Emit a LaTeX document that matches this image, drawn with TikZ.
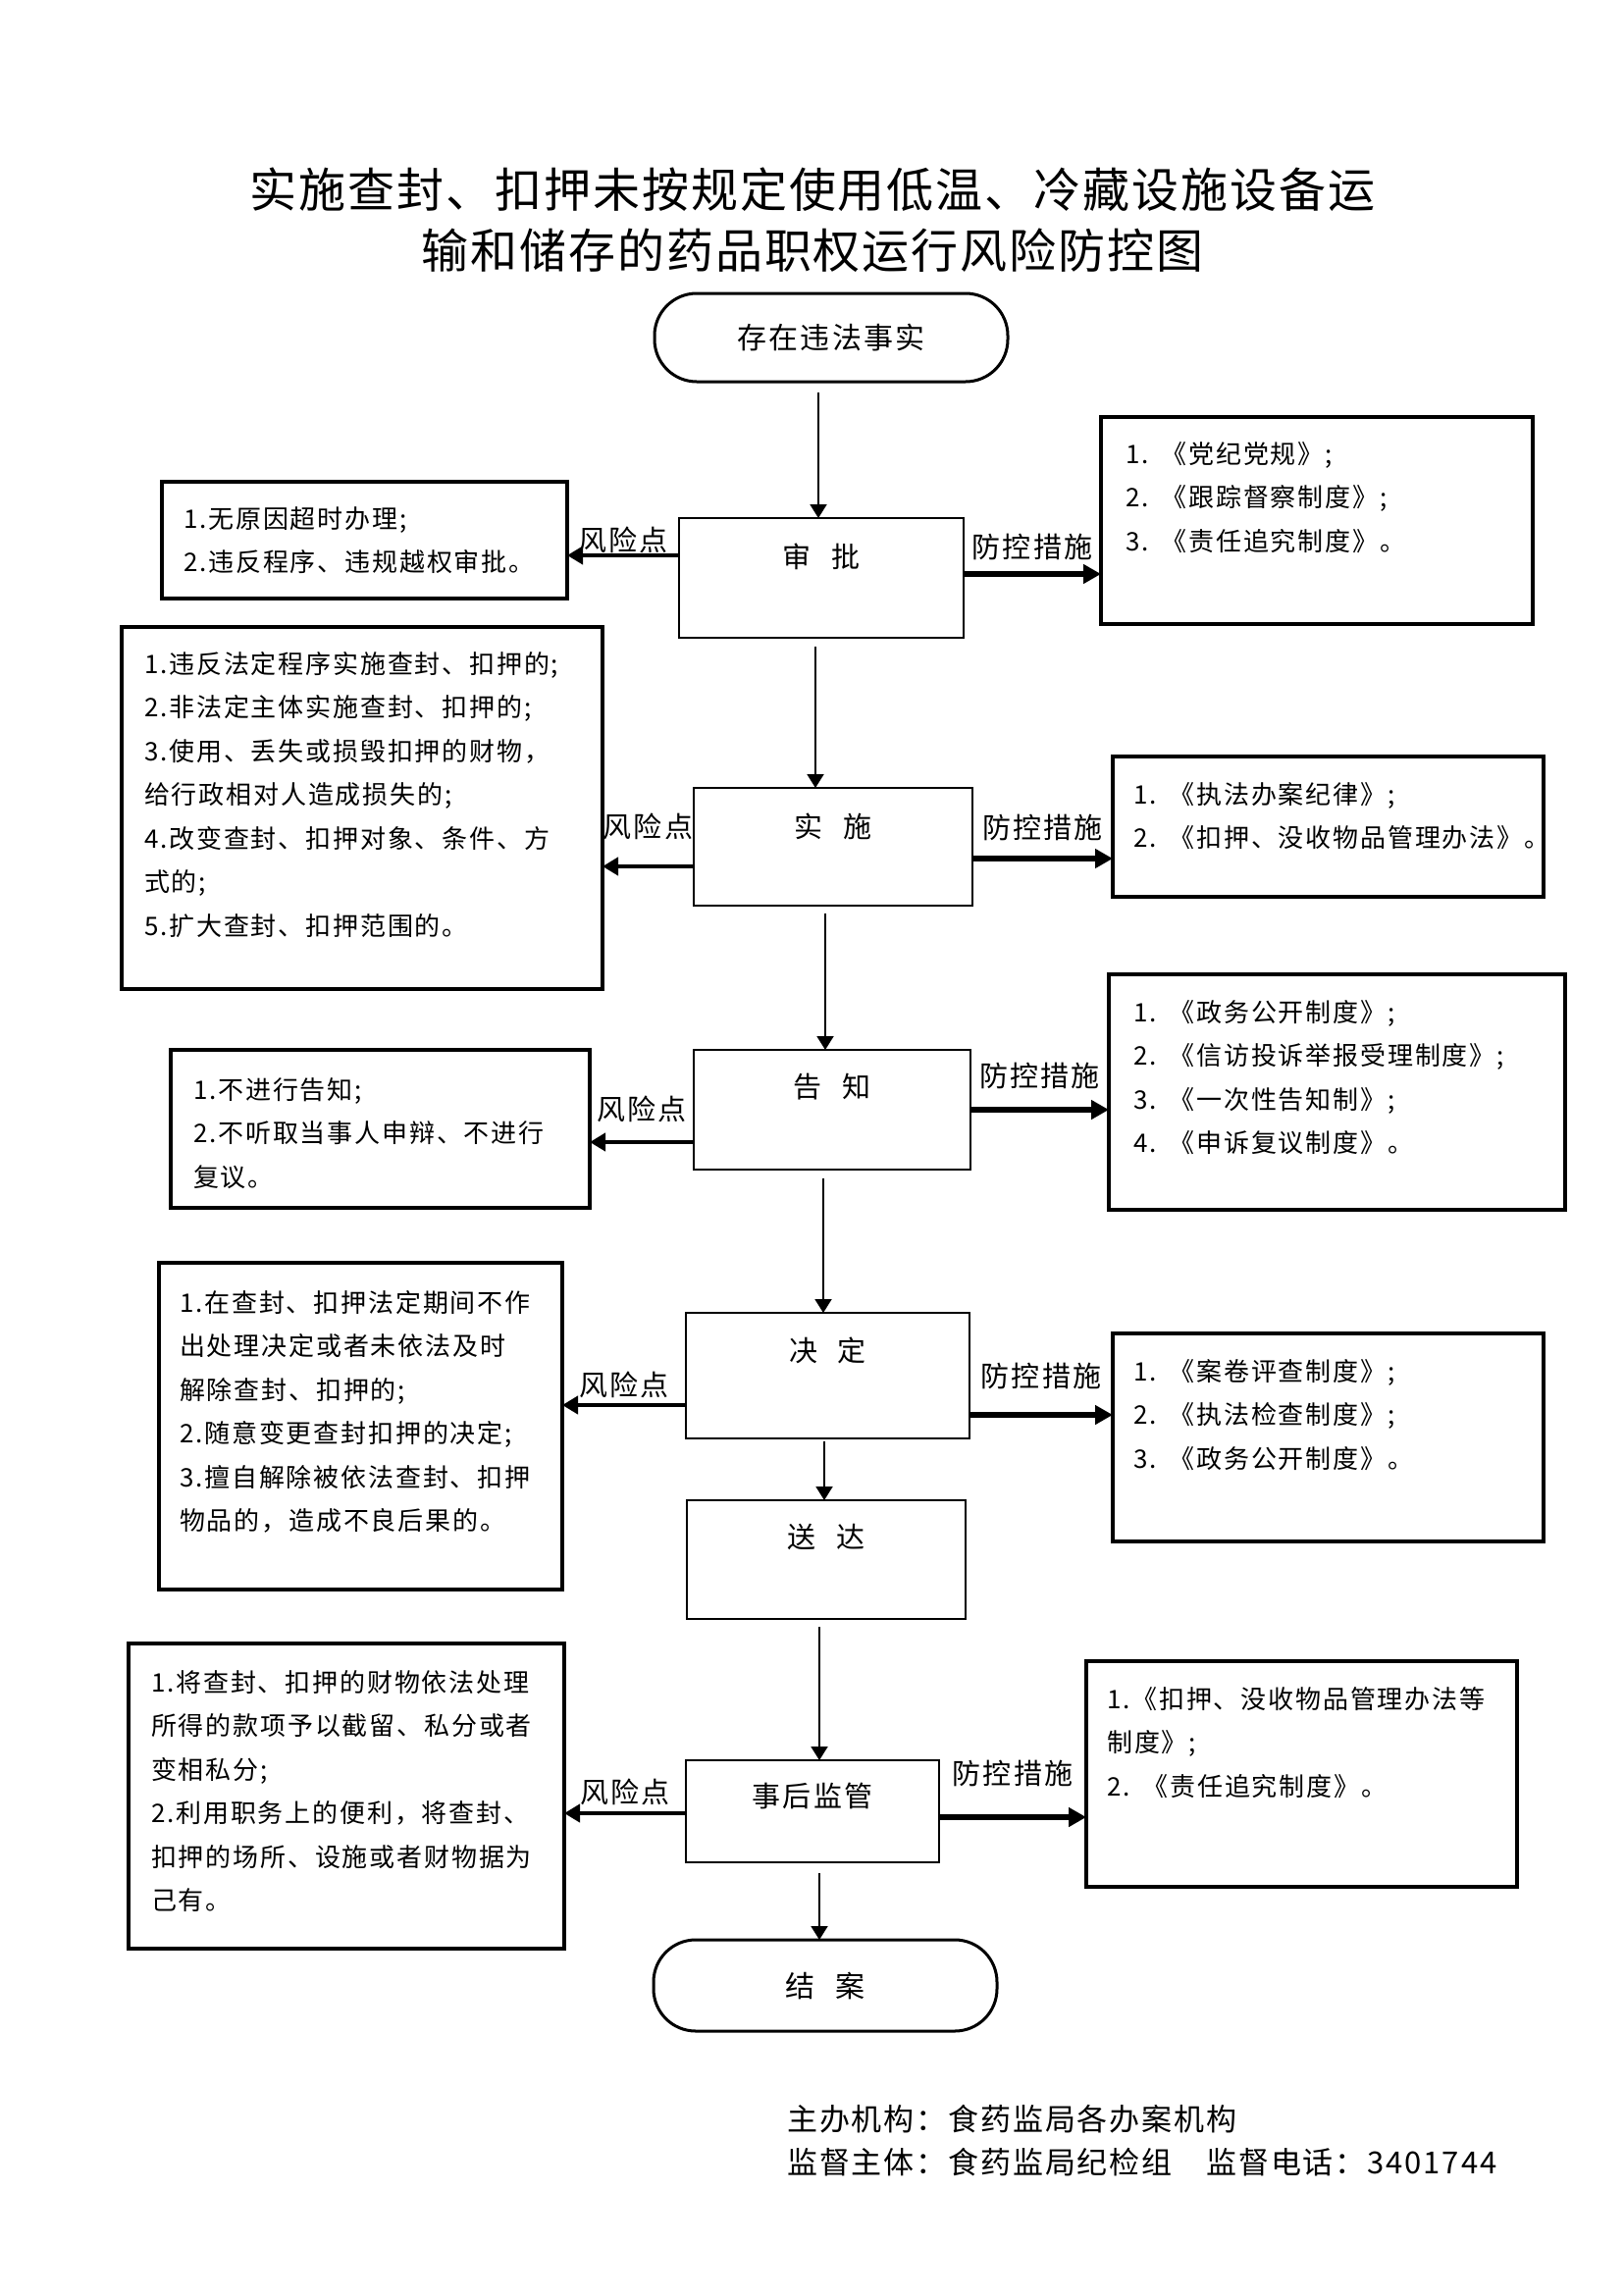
\documentclass[tikz,border=0pt]{standalone}
\usepackage{fontspec}
\setmainfont{Noto Sans CJK SC}
\newfontfamily\titlefont[LetterSpace=4]{Noto Sans CJK SC}
\newfontfamily\boxfont[LetterSpace=7]{Noto Sans CJK SC}
\newfontfamily\labelfont[LetterSpace=8]{Noto Sans CJK SC}
\newfontfamily\procfont[LetterSpace=8]{Noto Sans CJK SC}
\newfontfamily\footfont[LetterSpace=6]{Noto Sans CJK SC}
\usetikzlibrary{arrows.meta}
\begin{document}
\begin{tikzpicture}[x=1pt,y=-1pt,
  box/.style={draw, line width=3.5pt, inner sep=0pt, outer sep=0pt, anchor=north west},
  proc/.style={draw, line width=2.6pt, inner sep=0pt, outer sep=0pt, anchor=north west},
  term/.style={draw, line width=3pt, rounded corners=43pt, inner sep=0pt, outer sep=0pt, anchor=north west,
    font=\procfont\fontsize{30}{36}\selectfont},
  ptext/.style={inner sep=0pt, font=\procfont\fontsize{29}{36}\selectfont},
  lines/.style={anchor=base west, inner sep=0pt, text width=600pt, align=left,
    font=\boxfont\fontsize{26}{44.5}\selectfont},
  lbl/.style={inner sep=0pt, font=\labelfont\fontsize{29}{34}\selectfont},
  flow/.style={line width=2pt, -{Triangle[width=17pt,length=14pt]}},
  riskarrow/.style={line width=4.5pt, -{Triangle[width=18pt,length=16pt]}},
  ctrlarrow/.style={line width=5.5pt, -{Triangle[width=19pt,length=18pt]}},
  titletext/.style={inner sep=0pt, font=\titlefont\fontsize{48}{60}\selectfont},
  foot/.style={anchor=west, inner sep=0pt, font=\footfont\fontsize{31}{40}\selectfont}
]
\fill[white] (0,0) rectangle (1654,2339);
\useasboundingbox (0,0) rectangle (1654,2339);

% title
\node[titletext] (t1) at (828,193) {实施查封、扣押未按规定使用低温、冷藏设施设备运};
\node[titletext] (t2) at (828,255) {输和储存的药品职权运行风险防控图};

% terminals
\node[term, minimum width=360pt, minimum height=90pt] (start) at (667,299) {存在违法事实\hspace{30pt}};
\node[term, minimum width=350pt, minimum height=93pt] (end) at (666,1977) {结\hspace{0.7em}案};

% process boxes
\node[proc, minimum width=290pt, minimum height=122pt] (sp) at (692,528) {};
\node[proc, minimum width=284pt, minimum height=120pt] (ss) at (707,803) {};
\node[proc, minimum width=282pt, minimum height=122pt] (gz) at (707,1070) {};
\node[proc, minimum width=289pt, minimum height=128pt] (jd) at (699,1338) {};
\node[proc, minimum width=284pt, minimum height=121pt] (sd) at (700,1529) {};
\node[proc, minimum width=258pt, minimum height=104pt] (sh) at (699,1794) {};

\node[ptext] (spt) at ([yshift=-39pt]sp.north) {审\hspace{0.7em}批};
\node[ptext] (sst) at ([yshift=-39pt]ss.north) {实\hspace{0.7em}施};
\node[ptext] (gzt) at ([yshift=-38pt]gz.north) {告\hspace{0.7em}知};
\node[ptext] (jdt) at ([yshift=-38pt]jd.north) {决\hspace{0.7em}定};
\node[ptext] (sdt) at ([yshift=-37pt]sd.north) {送\hspace{0.7em}达};
\node[ptext] (sht) at ([yshift=-36pt]sh.north) {事后监管};

% risk boxes
\node[box, minimum width=413pt, minimum height=119pt] (r1) at (165,491) {};
\node[box, minimum width=490pt, minimum height=369pt] (r2) at (124,639) {};
\node[box, minimum width=427pt, minimum height=161pt] (r3) at (174,1070) {};
\node[box, minimum width=411pt, minimum height=333pt] (r4) at (162,1287) {};
\node[box, minimum width=444pt, minimum height=311pt] (r5) at (131,1675) {};

% control boxes
\node[box, minimum width=440pt, minimum height=211pt] (c1) at (1122,425) {};
\node[box, minimum width=439pt, minimum height=143pt] (c2) at (1134,771) {};
\node[box, minimum width=465pt, minimum height=240pt] (c3) at (1130,993) {};
\node[box, minimum width=439pt, minimum height=212pt] (c4) at (1134,1359) {};
\node[box, minimum width=439pt, minimum height=230pt] (c5) at (1107,1693) {};

% risk texts
\node[lines] (r1t) at ([xshift=22pt,yshift=-47pt]r1.north west)
  {1.无原因超时办理;\\2.违反程序、违规越权审批。};
\node[lines] (r2t) at ([xshift=23pt,yshift=-47pt]r2.north west)
  {1.违反法定程序实施查封、扣押的;\\2.非法定主体实施查封、扣押的;\\3.使用、丢失或损毁扣押的财物，\\给行政相对人造成损失的;\\4.改变查封、扣押对象、条件、方\\式的;\\5.扩大查封、扣押范围的。};
\node[lines] (r3t) at ([xshift=23pt,yshift=-50pt]r3.north west)
  {1.不进行告知;\\2.不听取当事人申辩、不进行\\复议。};
\node[lines] (r4t) at ([xshift=21pt,yshift=-50pt]r4.north west)
  {1.在查封、扣押法定期间不作\\出处理决定或者未依法及时\\解除查封、扣押的;\\2.随意变更查封扣押的决定;\\3.擅自解除被依法查封、扣押\\物品的，造成不良后果的。};
\node[lines] (r5t) at ([xshift=23pt,yshift=-49pt]r5.north west)
  {1.将查封、扣押的财物依法处理\\所得的款项予以截留、私分或者\\变相私分;\\2.利用职务上的便利，将查封、\\扣押的场所、设施或者财物据为\\己有。};

% control texts
\node[lines] (c1t) at ([xshift=25pt,yshift=-47pt]c1.north west)
  {1. 《党纪党规》;\\2. 《跟踪督察制度》;\\3. 《责任追究制度》。};
\node[lines] (c2t) at ([xshift=21pt,yshift=-48pt]c2.north west)
  {1. 《执法办案纪律》;\\2. 《扣押、没收物品管理办法》。};
\node[lines] (c3t) at ([xshift=25pt,yshift=-48pt]c3.north west)
  {1. 《政务公开制度》;\\2. 《信访投诉举报受理制度》;\\3. 《一次性告知制》;\\4. 《申诉复议制度》。};
\node[lines] (c4t) at ([xshift=21pt,yshift=-48pt]c4.north west)
  {1. 《案卷评查制度》;\\2. 《执法检查制度》;\\3. 《政务公开制度》。};
\node[lines] (c5t) at ([xshift=21pt,yshift=-48pt]c5.north west)
  {1.《扣押、没收物品管理办法等\\制度》;\\2. 《责任追究制度》。};

% vertical flow
\draw[flow, shorten <=11pt] (start.south -| 834,0) -- (sp.north -| 834,0);
\draw[flow, shorten <=9pt] (sp.south -| 831,0) -- (ss.north -| 831,0);
\draw[flow, shorten <=8pt] (ss.south -| 841,0) -- (gz.north -| 841,0);
\draw[flow, shorten <=9pt] (gz.south -| 839,0) -- (jd.north -| 839,0);
\draw[flow, shorten <=3pt] (jd.south -| 840,0) -- (sd.north -| 840,0);
\draw[flow, shorten <=8pt] (sd.south -| 835,0) -- (sh.north -| 835,0);
\draw[flow, shorten <=11pt] (sh.south -| 835,0) -- (end.north -| 835,0);

% risk arrows
\draw[riskarrow] (sp.west |- 0,566) -- (r1.east |- 0,566) node[lbl, midway, above=0pt] (l1) {风险点};
\draw[riskarrow] (ss.west |- 0,883) -- (r2.east |- 0,883) node[lbl, midway, above=25pt] (l2) {风险点};
\draw[riskarrow] (gz.west |- 0,1164) -- (r3.east |- 0,1164) node[lbl, midway, above=18pt] (l3) {风险点};
\draw[riskarrow] (jd.west |- 0,1432) -- (r4.east |- 0,1432) node[lbl, midway, above=5pt] (l4) {风险点};
\draw[riskarrow] (sh.west |- 0,1848) -- (r5.east |- 0,1848) node[lbl, midway, above=6pt] (l5) {风险点};

% control arrows
\draw[ctrlarrow] (sp.east |- 0,585) -- (c1.west |- 0,585) node[lbl, midway, above=11pt] (m1) {防控措施};
\draw[ctrlarrow] (ss.east |- 0,875) -- (c2.west |- 0,875) node[lbl, midway, above=15pt] (m2) {防控措施};
\draw[ctrlarrow] (gz.east |- 0,1131) -- (c3.west |- 0,1131) node[lbl, midway, above=18pt] (m3) {防控措施};
\draw[ctrlarrow] (jd.east |- 0,1442) -- (c4.west |- 0,1442) node[lbl, midway, above=23pt] (m4) {防控措施};
\draw[ctrlarrow] (sh.east |- 0,1852) -- (c5.west |- 0,1852) node[lbl, midway, above=28pt] (m5) {防控措施};

% footer
\node[foot] (f1) at (802,2160) {主办机构：食药监局各办案机构};
\node[foot] (f2) at (802,2204) {监督主体：食药监局纪检组　监督电话：3401744};
\end{tikzpicture}
\end{document}
